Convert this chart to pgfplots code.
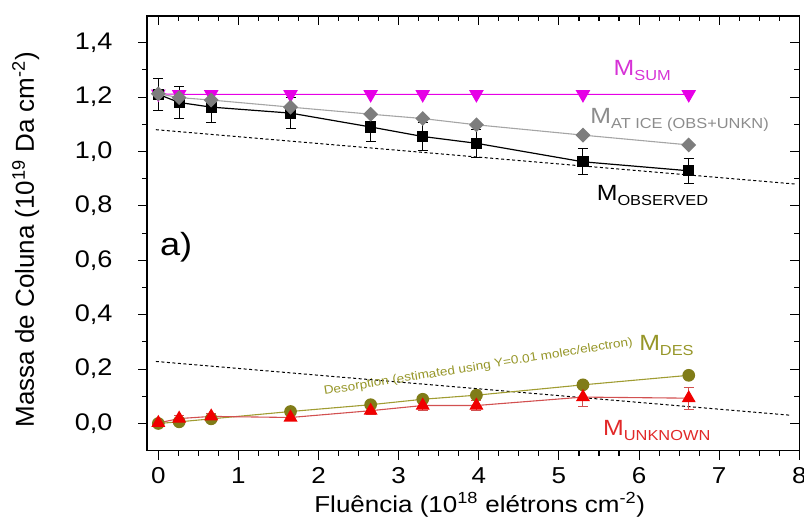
\documentclass[border=0pt]{standalone}
\usepackage{fontspec}
\setmainfont{Liberation Sans}[FakeStretch=1.13]
\newfontfamily\ylabfont{Liberation Sans}
\usepackage{pgfplots}
\pgfplotsset{compat=1.18}
\usepackage{pgfplotstable}

\definecolor{msum}{RGB}{230,0,230}
\definecolor{msumtxt}{RGB}{214,50,214}
\definecolor{icemark}{RGB}{125,125,125}
\definecolor{iceline}{RGB}{165,165,165}
\definecolor{icetxt}{RGB}{140,140,140}
\definecolor{desmark}{RGB}{128,124,24}
\definecolor{desline}{RGB}{160,156,50}
\definecolor{destxt}{RGB}{150,150,40}
\definecolor{unkmark}{RGB}{240,0,0}
\definecolor{unkline}{RGB}{210,80,80}
\definecolor{unktxt}{RGB}{225,40,40}

\newcommand{\Msub}[1]{{\fontsize{22}{22}\selectfont M}\raisebox{-5pt}{\fontsize{14.5}{14.5}\selectfont #1}}

% fluence, observed, error, at ice, sum, desorbed, unknown, error
\pgfplotstableread{
x     obs    eobs   ice    sum    des    unk    eunk
0.00  1.210  0.060  1.212  1.212  0.000  0.002  0.008
0.26  1.180  0.059  1.198  1.210  0.006  0.018  0.012
0.66  1.163  0.058  1.189  1.210  0.017  0.026  0.012
1.65  1.141  0.057  1.163  1.210  0.044  0.022  0.010
2.65  1.090  0.054  1.137  1.210  0.069  0.047  0.015
3.30  1.055  0.053  1.121  1.210  0.089  0.066  0.020
3.97  1.030  0.052  1.098  1.210  0.104  0.066  0.020
5.30  0.962  0.048  1.060  1.210  0.142  0.097  0.035
6.62  0.929  0.046  1.024  1.210  0.177  0.093  0.040
}\data

\begin{document}
\begin{tikzpicture}
\pgfplotsset{
  base/.style={
    scale only axis, width=652.3pt, height=434.7pt,
    xmin=-0.141, xmax=8, ymin=-0.1, ymax=1.498,
    xtick={0,1,2,3,4,5,6,7,8},
    ytick={0,0.2,0.4,0.6,0.8,1.0,1.2,1.4},
    minor x tick num=3, minor y tick num=1,
    axis line style={line width=1.3pt},
    every tick/.style={black, line width=1.1pt},
    major tick length=9pt, minor tick length=5pt,
  }
}
\begin{axis}[base,
  tick align=inside, xtick pos=top, ytick pos=right,
  xticklabels={}, yticklabels={}]
\end{axis}
\begin{axis}[base, clip=false,
  tick align=outside, xtick pos=bottom, ytick pos=left,
  xticklabel style={font=\fontsize{23}{23}\selectfont, yshift=-4pt},
  yticklabel style={font=\fontsize{24}{24}\selectfont, xshift=-22pt,
    /pgf/number format/fixed, /pgf/number format/precision=1, /pgf/number format/fixed zerofill},
  /pgf/number format/assume math mode=true,
  /pgf/number format/use comma,
  xlabel={Fluência (10\textsuperscript{18} elétrons cm\textsuperscript{-2})},
  xlabel style={font=\fontsize{23}{23}\selectfont, at={(axis description cs:0.51,-0.143)}, anchor=base},
  ylabel={Massa de Coluna (10\textsuperscript{19} Da cm\textsuperscript{-2})},
  ylabel style={font=\ylabfont\fontsize{26}{26}\selectfont, at={(axis description cs:-0.186,0.485)}, anchor=center},
]
% trend lines
\addplot[black, line width=1pt, dash pattern=on 3pt off 2.5pt] coordinates {(-0.03,1.080) (7.96,0.880)};
\addplot[black, line width=1pt, dash pattern=on 3pt off 2.5pt] coordinates {(-0.03,0.228) (7.90,0.030)};
% desorbed
\addplot[desline, line width=1.1pt, mark=*, mark size=5.8pt, mark options={fill=desmark, draw=desmark}]
  table[x=x, y=des] {\data};
% unknown
\addplot[unkline, line width=1.1pt, mark=triangle*, mark size=7pt, mark options={fill=unkmark, draw=unkmark},
  error bars/.cd, y dir=both, y explicit,
  error bar style={unkline, line width=1pt},
  error mark options={rotate=90, mark size=5pt, line width=1pt, draw=unkline}]
  table[x=x, y=unk, y error=eunk] {\data};
% sum
\addplot[msum, line width=1pt, mark=triangle*, mark size=7.5pt, mark options={rotate=180, fill=msum}]
  table[x=x, y=sum] {\data};
% observed
\addplot[black, line width=1.2pt, mark=square*, mark size=5pt, mark options={fill=black},
  error bars/.cd, y dir=both, y explicit,
  error bar style={black, line width=1pt},
  error mark options={rotate=90, mark size=5pt, line width=1pt}]
  table[x=x, y=obs, y error=eobs] {\data};
% at ice
\addplot[iceline, line width=1.1pt, mark=square*, mark size=4.7pt, mark options={rotate=45, fill=icemark, draw=icemark}]
  table[x=x, y=ice] {\data};

\node[anchor=base west, inner sep=0, text=msumtxt] at (axis cs:5.68,1.281) {\Msub{SUM}};
\node[anchor=base west, inner sep=0, text=icetxt] at (axis cs:5.39,1.103) {\Msub{AT ICE (OBS+UNKN)}};
\node[anchor=base west, inner sep=0, text=black] at (axis cs:5.47,0.821) {\Msub{OBSERVED}};
\node[anchor=base west, inner sep=0, text=destxt] at (axis cs:6.00,0.268) {\Msub{DES}};
\node[anchor=base west, inner sep=0, text=unktxt] at (axis cs:5.55,-0.046) {\Msub{UNKNOWN}};
\node[anchor=base west, inner sep=0] at (axis cs:0.02,0.619) {\fontsize{32}{32}\selectfont a)};
\node[anchor=base, inner sep=0, rotate=9.1, text=destxt] at (axis cs:4.0,0.196)
  {\fontsize{12}{12}\selectfont Desorption (estimated using Y=0.01 molec/electron)};

\coordinate (BB1) at (axis description cs:-0.2254,-0.1778);
\coordinate (BB2) at (axis description cs:1.0072,1.0368);
\end{axis}
\pgfresetboundingbox
\useasboundingbox (BB1) rectangle (BB2);
\end{tikzpicture}
\end{document}
